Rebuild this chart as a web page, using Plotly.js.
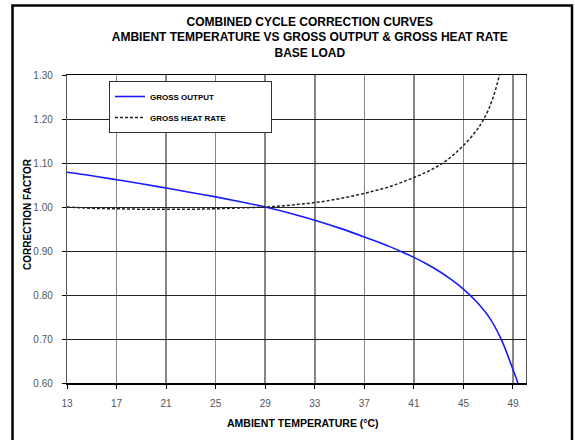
<!DOCTYPE html>
<html>
<head>
<meta charset="utf-8">
<script src="https://cdn.plot.ly/plotly-3.0.1.min.js"></script>
<style>
  html, body { margin: 0; padding: 0; background: #ffffff; }
  #chart { width: 575px; height: 440px; }
</style>
</head>
<body>
<div id="chart"></div>
<script>
// ---- data ----
var outputTemps  = [13, 15, 17, 19, 21, 23, 25, 27, 29, 31, 33, 35, 37, 38, 39, 40, 41, 42, 43, 44, 45, 46, 47, 48, 49, 49.4];
var outputValues = [1.079, 1.071, 1.062, 1.053, 1.043, 1.033, 1.023, 1.012, 1.000, 0.986, 0.970, 0.952, 0.932, 0.9215, 0.9105, 0.8985, 0.8855, 0.871, 0.8545, 0.8355, 0.8135, 0.7865, 0.7525, 0.7025, 0.6305, 0.600];

var heatTemps  = [13, 15, 17, 19, 21, 23, 25, 27, 29, 31, 33, 35, 37, 38, 39, 40, 41, 42, 43, 44, 45, 46, 46.5, 47, 47.5, 48];
var heatValues = [1.000, 0.997, 0.996, 0.995, 0.995, 0.995, 0.996, 0.998, 1.000, 1.004, 1.010, 1.019, 1.031, 1.038, 1.046, 1.056, 1.067, 1.079, 1.094, 1.114, 1.140, 1.172, 1.193, 1.220, 1.258, 1.310];

var seriesNames = ['GROSS OUTPUT', 'GROSS HEAT RATE'];
var xTickValues = [13, 17, 21, 25, 29, 33, 37, 41, 45, 49];
var yTickValues = [0.60, 0.70, 0.80, 0.90, 1.00, 1.10, 1.20, 1.30];

var titleLines = ['COMBINED CYCLE CORRECTION CURVES',
                  'AMBIENT TEMPERATURE VS GROSS OUTPUT &amp; GROSS HEAT RATE',
                  'BASE LOAD'];
var xTitle = 'AMBIENT TEMPERATURE (°C)';
var yTitle = 'CORRECTION FACTOR';

var FONT = '"Liberation Sans", Arial, sans-serif';
var PAD = '\u00a0'.repeat(18);   // widens the legend box like the reference

var traces = [
  {
    x: outputTemps, y: outputValues, name: seriesNames[0] + PAD,
    legendgroup: 'a',
    type: 'scatter', mode: 'lines',
    line: {color: '#1a1aff', width: 1.6, shape: 'spline', smoothing: 1},
    hoverinfo: 'skip'
  },
  {
    x: heatTemps, y: heatValues, name: seriesNames[1] + PAD,
    legendgroup: 'b',
    type: 'scatter', mode: 'lines',
    line: {color: '#222222', width: 1.5, dash: '3px,2px', shape: 'spline', smoothing: 1},
    hoverinfo: 'skip'
  }
];

var layout = {
  width: 575, height: 440,
  margin: {l: 67, r: 49, t: 75, b: 57},
  paper_bgcolor: '#ffffff',
  plot_bgcolor: '#ffffff',
  font: {family: FONT, color: '#000000'},
  showlegend: true,
  title: {
    text: '<b>' + titleLines.join('<br>') + '</b>',
    font: {family: FONT, size: 12, color: '#000000'},
    xref: 'paper', x: 0.529, xanchor: 'center',
    yref: 'container', y: 0.942, yanchor: 'middle'
  },
  xaxis: {
    range: [13, 50.05],
    tickmode: 'array', tickvals: xTickValues,
    ticks: 'outside', ticklen: 4, tickcolor: '#000000', tickwidth: 1,
    ticklabelstandoff: 6,
    tickfont: {family: FONT, size: 10, color: '#555555'},
    showgrid: true, gridcolor: '#858585', gridwidth: 1.5,
    showline: true, linecolor: '#000000', linewidth: 1.5, mirror: true,
    zeroline: false, fixedrange: true
  },
  yaxis: {
    range: [0.6, 1.3],
    tickmode: 'array', tickvals: yTickValues, tickformat: '.2f',
    ticks: 'outside', ticklen: 4, tickcolor: '#000000', tickwidth: 1,
    ticklabelstandoff: 7,
    tickfont: {family: FONT, size: 10, color: '#555555'},
    showgrid: true, gridcolor: '#222222', gridwidth: 1,
    showline: true, linecolor: '#555555', linewidth: 1.2, mirror: true,
    zeroline: false, fixedrange: true
  },
  legend: {
    x: 0.0915, y: 0.9805, xanchor: 'left', yanchor: 'top',
    bgcolor: '#ffffff', bordercolor: '#333333', borderwidth: 1,
    font: {family: FONT, size: 8, color: '#000000', weight: 'bold'},
    traceorder: 'grouped', tracegroupgap: 2,
    itemwidth: 30
  },
  annotations: [
    {
      text: '<b>' + xTitle + '</b>', showarrow: false,
      xref: 'paper', yref: 'paper', x: 0.514, y: -0.129,
      xanchor: 'center', yanchor: 'middle',
      font: {family: FONT, size: 10.5, color: '#000000'}
    },
    {
      text: '<b>' + yTitle + '</b>', showarrow: false, textangle: -90,
      xref: 'paper', yref: 'paper', x: -0.085, y: 0.549,
      xanchor: 'center', yanchor: 'middle',
      font: {family: FONT, size: 10, color: '#000000'}
    }
  ],
  shapes: [
    {
      type: 'rect', xref: 'paper', yref: 'paper',
      x0: -0.1187, x1: 1.1002, y0: -0.19, y1: 1.2256,
      line: {color: '#000000', width: 2.5}, fillcolor: 'rgba(0,0,0,0)',
      layer: 'below'
    }
  ]
};

Plotly.newPlot('chart', traces, layout, {displayModeBar: false, staticPlot: true});
</script>
</body>
</html>
